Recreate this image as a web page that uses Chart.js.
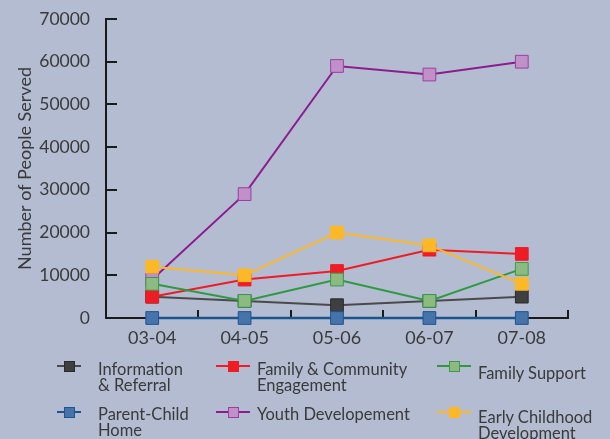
<!DOCTYPE html>
<html><head><meta charset="utf-8">
<script src="https://cdn.jsdelivr.net/npm/chart.js@4/dist/chart.umd.min.js"></script>
<style>
html,body{margin:0;padding:0;background:#b3bcd1;overflow:hidden}
#wrap{position:relative;width:610px;height:439px}
canvas{position:absolute;left:0;top:0}
.lg{position:absolute;font-family:Lato,"Noto Sans",sans-serif;font-size:16.5px;line-height:16px;color:#3a3a3a}
.mk{position:absolute;height:2px}
.sq{position:absolute;width:11px;height:11px;box-sizing:border-box;border:1px solid}
</style></head><body>
<div id="wrap"><canvas id="c" width="610" height="439"></canvas><div id="legend"></div></div>
<script>
const categories = ["03-04","04-05","05-06","06-07","07-08"];
const infoReferral = [5000, 4000, 3000, 4000, 5000];
const familyCommunity = [5000, 9000, 11000, 16000, 15000];
const familySupport = [8000, 4000, 9000, 4000, 11500];
const parentChild = [0, 0, 0, 0, 0];
const youthDev = [9000, 29000, 59000, 57000, 60000];
const earlyChildhood = [12000, 10000, 20000, 17000, 8000];
const yTicks = [0,10000,20000,30000,40000,50000,60000,70000];

const series = [
  {label:"Information\n& Referral", data:infoReferral, line:"#4a4a4a", fill:"#3f3f3f", border:"#2a2a2a", order:4},
  {label:"Family & Community\nEngagement", data:familyCommunity, line:"#ee1c25", fill:"#ee1c25", border:"#ee1c25", order:3},
  {label:"Family Support", data:familySupport, line:"#2e9a40", fill:"#8cba80", border:"#3a9a4a", order:2},
  {label:"Parent-Child\nHome", data:parentChild, line:"#1a5590", fill:"#4674aa", border:"#1d5591", order:1},
  {label:"Youth Developement", data:youthDev, line:"#8b1d8e", fill:"#c190c8", border:"#9b3fa0", order:5},
  {label:"Early Childhood\nDevelopment", data:earlyChildhood, line:"#fdb827", fill:"#fdb827", border:"#fdb827", order:0}
];

const tickPlugin = {
  id:'ticks',
  beforeDatasetsDraw(chart){
    const ctx = chart.ctx, x = chart.scales.x, y = chart.scales.y;
    ctx.save();
    ctx.strokeStyle = '#1a1a1a'; ctx.lineWidth = 2;
    yTicks.forEach(v=>{
      const py = Math.round(y.getPixelForValue(v));
      ctx.beginPath(); ctx.moveTo(x.left, py); ctx.lineTo(x.left+11, py); ctx.stroke();
    });
    for(let i=0;i<categories.length;i++){
      const px = Math.round((x.getPixelForValue(i)+ (i+1<categories.length ? x.getPixelForValue(i+1) : 2*x.getPixelForValue(i)-x.getPixelForValue(i-1)))/2);
      ctx.beginPath(); ctx.moveTo(px, y.bottom); ctx.lineTo(px, y.bottom-8); ctx.stroke();
    }
    ctx.restore();
  }
};

new Chart(document.getElementById('c'), {
  type:'line',
  data:{
    labels:categories,
    datasets:series.map(s=>({
      label:s.label, data:s.data, borderColor:s.line, borderWidth:s.data===parentChild?2.5:2,
      pointStyle:'rect', pointRadius:9, pointHoverRadius:9,
      pointBackgroundColor:s.fill, pointBorderColor:s.border, pointBorderWidth:1,
      tension:0, order:s.order, clip:false
    }))
  },
  options:{
    responsive:false, animation:false,
    layout:{padding:{top:19,right:42,bottom:91,left:14}},
    plugins:{legend:{display:false}, tooltip:{enabled:false}},
    scales:{
      x:{
        offset:true,
        grid:{display:false},
        border:{display:true,color:'#1a1a1a',width:2,z:-1},
        ticks:{color:'#3a3a3a',font:{family:'Lato',size:18},padding:1,maxRotation:0},
        afterFit(s){s.height=30;}
      },
      y:{
        min:0,max:70000,
        afterBuildTicks(s){s.ticks = yTicks.map(v=>({value:v}));},
        grid:{display:false},
        border:{display:true,color:'#1a1a1a',width:2,z:-1},
        ticks:{color:'#3a3a3a',font:{family:'Lato',size:17.5},padding:8,callback:(v)=>String(v)},
        title:{display:true,text:'Number of People Served',color:'#3a3a3a',font:{family:'Lato',size:18},padding:{top:0,bottom:1}},
        afterFit(s){s.width=92;}
      }
    }
  },
  plugins:[tickPlugin]
});

// HTML legend
const cols = [{lx:57,lw:24,tx:98},{lx:216,lw:34,tx:257},{lx:437,lw:34,tx:478}];
const rows = [{my:366,ty:361},{my:412,ty:406}];
const lg = document.getElementById('legend');
series.forEach((s,i)=>{
  const c = cols[i%3], r = rows[Math.floor(i/3)];
  const line = document.createElement('div');
  line.className='mk'; line.style.left=c.lx+'px'; line.style.width=c.lw+'px'; line.style.top=(r.my-1)+'px'; line.style.background=s.line;
  lg.appendChild(line);
  const sq = document.createElement('div');
  sq.className='sq'; sq.style.left=(c.lx+c.lw/2-5.5)+'px'; sq.style.top=(r.my-5.5)+'px'; sq.style.background=s.fill; sq.style.borderColor=s.border;
  lg.appendChild(sq);
  const t = document.createElement('div');
  t.className='lg'; t.style.left=c.tx+'px';
  const lines = s.label.split('\n');
  let top = r.ty;
  if(i===2) top = r.ty+4;
  if(i===5) top = r.ty+3;
  t.style.top=top+'px';
  t.innerHTML = lines.join('<br>');
  lg.appendChild(t);
});
</script>
</body></html>
